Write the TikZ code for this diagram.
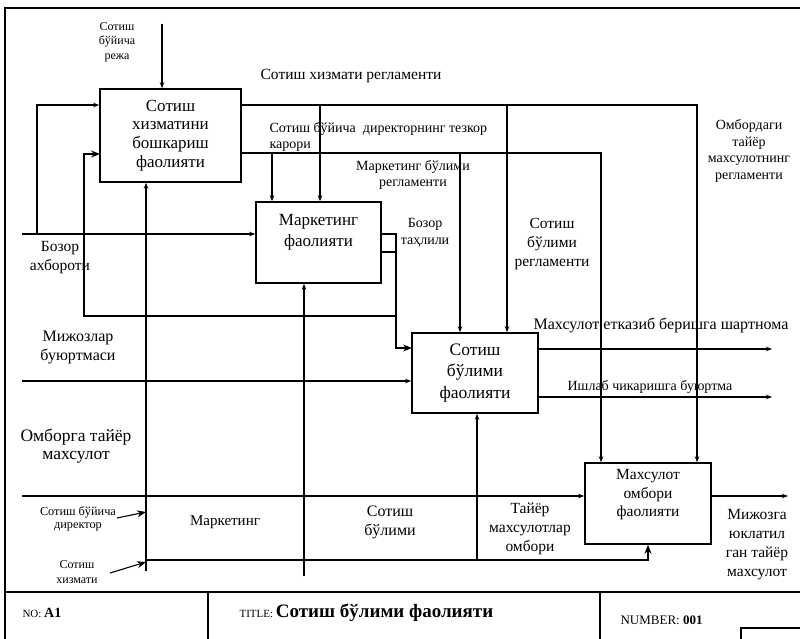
\documentclass[tikz,border=0pt]{standalone}
\usepackage{fontspec}
\setmainfont{Liberation Serif}
\usetikzlibrary{arrows.meta}

\begin{document}
\begin{tikzpicture}[x=1pt,y=-1pt,->,>={Stealth[length=6pt,width=4.5pt]},line width=1.1pt,
  box/.style={draw,line width=1.6pt,inner sep=0pt,align=center},
  bigtip/.style={-{Stealth[length=9pt,width=7pt]}},
  lbl/.style={inner sep=0pt,align=center},
  lblxs/.style={lbl,font=\fontsize{12}{14.5}\selectfont},
  lbls/.style={lbl,font=\fontsize{14}{16.5}\selectfont},
  lblm/.style={lbl,font=\fontsize{15.5}{19}\selectfont},
  lbll/.style={lbl,font=\fontsize{16}{19}\selectfont}]
  \useasboundingbox (0,0) rectangle (800,639);

  % frame and title block
  \draw[-,line width=1.5pt] (5,639) -- (5,8) -- (800,8);
  \draw[-] (5,592) -- (800,592);
  \draw[-] (208,592) -- (208,639);
  \draw[-] (600,592) -- (600,639);
  \draw[-] (741,639) -- (741,628) -- (800,628);

  % activities
  \node[box,minimum width=141pt,minimum height=93pt,font=\fontsize{17}{18.7}\selectfont] (A) at (170.5,135.5) {Сотиш\\хизматини\\бошкариш\\фаолияти};
  \node[box,minimum width=125pt,minimum height=81pt,font=\fontsize{17}{21}\selectfont] (B) at (318.5,242.5) {Маркетинг\\фаолияти\\[4pt]};
  \node[box,minimum width=126pt,minimum height=80pt,font=\fontsize{17.5}{21.5}\selectfont] (C) at (475,373) {Сотиш\\бўлими\\фаолияти};
  \node[box,minimum width=126pt,minimum height=81pt,font=\fontsize{15.5}{18.5}\selectfont] (D) at (648,503.5) {Махсулот\\омбори\\фаолияти\\[2pt]};

  % ports and bends
  \coordinate (plan) at (162,24);
  \coordinate (aout1) at (241,105);
  \coordinate (aout2) at (241,153);
  \coordinate (r1) at (697,105);
  \coordinate (r2) at (601,153);
  \coordinate (j1) at (320,105);
  \coordinate (j2) at (507,105);
  \coordinate (j3) at (272,153);
  \coordinate (j4) at (460,153);
  \coordinate (bozor) at (22,234);
  \coordinate (j5) at (37,234);
  \coordinate (r3) at (396,234);
  \coordinate (bout2) at (381,252);
  \coordinate (cin1) at (412,348);
  \coordinate (j6) at (396,316);
  \coordinate (r4) at (84,316);
  \coordinate (ain2) at (100,154);
  \coordinate (mijoz) at (22,381);
  \coordinate (cout1) at (538,349);
  \coordinate (cout2) at (538,397);
  \coordinate (e1) at (772,349);
  \coordinate (e2) at (772,397);
  \coordinate (ombor) at (22,496);
  \coordinate (e3) at (788,496);
  \coordinate (m1) at (146,571);
  \coordinate (m2) at (304,576);
  \coordinate (m3) at (477,560);
  \coordinate (m4) at (146,560);
  \coordinate (dir) at (117,518);
  \coordinate (dirend) at (146,512);
  \coordinate (xiz) at (110,573);
  \coordinate (xizend) at (146,562);

  % controls
  \draw (plan) -- (plan |- A.north);
  \draw (aout1) -| (r1 |- D.north);
  \draw (j1) -- (j1 |- B.north);
  \draw (j2) -- (j2 |- C.north);
  \draw (aout2) -| (r2 |- D.north);
  \draw (j3) -- (j3 |- B.north);
  \draw (j4) -- (j4 |- C.north);

  % inputs
  \draw (bozor) -- (bozor -| B.west);
  \draw (j5) |- (A.west |- aout1);
  \draw[bigtip] (B.east |- bozor) -- (r3) |- (cin1);
  \draw[-] (bout2) -- (bout2 -| r3);
  \draw[bigtip] (j6) -- (r4) |- (ain2);
  \draw (mijoz) -- (mijoz -| C.west);
  \draw (ombor) -- (ombor -| D.west);

  % outputs
  \draw (cout1) -- (e1);
  \draw (cout2) -- (e2);
  \draw (D.east |- e3) -- (e3);

  % mechanisms
  \draw (m1) -- (m1 |- A.south);
  \draw (m2) -- (m2 |- B.south);
  \draw (m3) -- (m3 |- C.south);
  \draw[bigtip] (m4) -| (D.south);
  \draw[bigtip] (dir) -- (dirend);
  \draw[bigtip] (xiz) -- (xizend);

  % labels
  \node[lblxs] (tplan) at (117,42) {Сотиш\\бўйича\\режа};
  \node[lblm] (treg) at (351,76) {Сотиш хизмати регламенти};
  \node[lbls,align=left,anchor=west] (ttez) at (269,137) {Сотиш бўйича\ \ директорнинг тезкор\\карори};
  \node[lbls] (tmreg) at (413,175) {Маркетинг бўлими\\регламенти};
  \node[lbls] (tomreg) at (749,151) {Омбордаги\\тайёр\\махсулотнинг\\регламенти};
  \node[lbls] (ttahl) at (425,233) {Бозор\\таҳлили};
  \node[lblm] (tsreg) at (552,244) {Сотиш\\бўлими\\регламенти};
  \node[lblm] (tboz) at (60,258) {Бозор\\ахбороти};
  \node[lbll] (tmij) at (78,347) {Мижозлар\\буюртмаси};
  \node[lbll,font=\fontsize{17.5}{18}\selectfont] (tomb) at (76,446) {Омборга тайёр\\махсулот};
  \node[lbll] (tshart) at (661,325) {Махсулот етказиб беришга шартнома};
  \node[lbls] (tish) at (650,387) {Ишлаб чикаришга буюртма};
  \node[lblxs,font=\fontsize{12.3}{12.5}\selectfont] (tdir) at (78,519) {Сотиш бўйича\\директор};
  \node[lblxs] (txiz) at (77,572) {Сотиш\\хизмати};
  \node[lbls,font=\fontsize{15}{19}\selectfont] (tmark) at (225,522) {Маркетинг};
  \node[lbll] (tsb) at (390,522) {Сотиш\\бўлими};
  \node[lblm] (ttay) at (530,529) {Тайёр\\махсулотлар\\омбори};
  \node[lblm] (tyuk) at (757,545) {Мижозга\\юклатил\\ган тайёр\\махсулот};

  % title block texts
  \node[lbl,anchor=base west] (tno) at (22,617) {\fontsize{11}{12}\selectfont NO: \fontsize{14}{15}\selectfont\bfseries A1};
  \node[lbl,anchor=base west] (ttitle) at (239,617) {\fontsize{11}{12}\selectfont TITLE: \fontsize{19}{20}\selectfont\bfseries Сотиш бўлими фаолияти};
  \node[lbl,anchor=base west] (tnum) at (620,624) {\fontsize{13}{14}\selectfont NUMBER: \bfseries 001};
\end{tikzpicture}
\end{document}
